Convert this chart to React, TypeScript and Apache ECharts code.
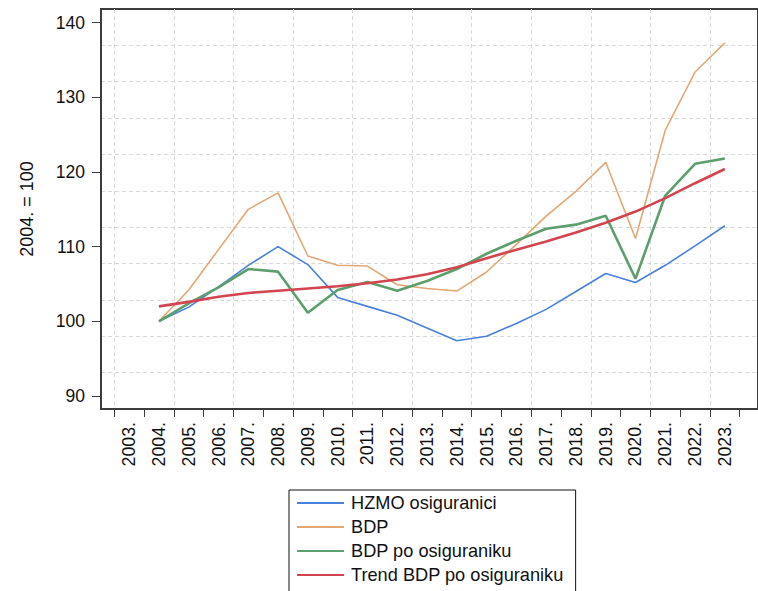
import React, { useEffect, useRef } from "react";
import * as echarts from "echarts";

// Category years (x axis labels, shown as "2003." ... "2023.")
const years = [2003, 2004, 2005, 2006, 2007, 2008, 2009, 2010, 2011, 2012, 2013, 2014, 2015, 2016, 2017, 2018, 2019, 2020, 2021, 2022, 2023];
// Data years (series start in 2004)
const dataYears = [2004, 2005, 2006, 2007, 2008, 2009, 2010, 2011, 2012, 2013, 2014, 2015, 2016, 2017, 2018, 2019, 2020, 2021, 2022, 2023];

const hzmo = [100, 101.9, 104.6, 107.5, 110.0, 107.6, 103.2, 102.0, 100.8, 99.1, 97.4, 98.0, 99.7, 101.6, 104.0, 106.4, 105.2, 107.5, 110.1, 112.8];
const bdp = [100, 104.2, 109.6, 115.0, 117.2, 108.75, 107.5, 107.4, 104.9, 104.4, 104.05, 106.6, 110.3, 114.1, 117.4, 121.3, 111.1, 125.6, 133.4, 137.3];
const bdpPoOsig = [100, 102.4, 104.55, 107.0, 106.65, 101.15, 104.2, 105.25, 104.1, 105.4, 107.0, 109.05, 110.8, 112.4, 112.95, 114.15, 105.7, 116.85, 121.1, 121.8];
const trend = [102.0, 102.6, 103.3, 103.8, 104.1, 104.4, 104.7, 105.1, 105.6, 106.3, 107.25, 108.45, 109.6, 110.7, 111.9, 113.2, 114.7, 116.5, 118.5, 120.4];

const seriesNames = ["HZMO osiguranici", "BDP", "BDP po osiguraniku", "Trend BDP po osiguraniku"];
const seriesColors = ["#4a80dc", "#e3a774", "#5c9f6c", "#d2454f"];
const seriesWidths = [1.6, 1.6, 2.6, 2.6];

const yTicks = [90, 100, 110, 120, 130, 140];

const FONT = "'Liberation Sans', Arial, Helvetica, sans-serif";

export default function App() {
  const ref = useRef<HTMLDivElement>(null);

  useEffect(() => {
    if (!ref.current) return;
    const chart = echarts.init(ref.current, undefined, { renderer: "svg" });

    const tickBounds = years.map((y) => y - 0.5).concat([years[years.length - 1] + 0.5]);
    const gridBounds = tickBounds.filter((_, i) => i % 2 === 0);

    const xMin = 2002.055;
    const xMax = 2024.113;
    const yMin = 88.25;
    const yMax = 141.84;

    const allData = [hzmo, bdp, bdpPoOsig, trend];

    chart.setOption({
      animation: false,
      backgroundColor: "#ffffff",
      textStyle: { fontFamily: FONT },
      color: seriesColors,
      grid: {
        left: 101,
        top: 9,
        width: 669,
        height: 400,
        show: true,
        borderColor: "#3c3c3c",
        borderWidth: 2,
        backgroundColor: "transparent",
      },
      legend: {
        orient: "vertical",
        left: 289,
        top: 490,
        height: 130,
        data: seriesNames,
        icon: "rect",
        itemWidth: 47,
        itemHeight: 2,
        itemGap: 0,
        padding: [1, 12, 8, 8],
        borderColor: "#111",
        borderWidth: 1,
        backgroundColor: "#fff",
        textStyle: { fontSize: 18.2, lineHeight: 24, color: "#111", fontFamily: FONT, padding: [0, 0, 0, 2] },
      },
      xAxis: [
        {
          type: "value",
          min: xMin,
          max: xMax,
          position: "bottom",
          z: 5,
          axisLine: { show: true, onZero: false, lineStyle: { color: "#3c3c3c", width: 2 } },
          axisTick: { show: true, length: 8, customValues: tickBounds, lineStyle: { color: "#3c3c3c", width: 1 } },
          axisLabel: {
            show: true,
            customValues: years,
            rotate: 90,
            margin: 13,
            fontSize: 17.8,
            color: "#111",
            fontFamily: FONT,
            formatter: (v: number) => `${v}.`,
          },
          splitLine: { show: false },
        },
        {
          type: "value",
          min: xMin,
          max: xMax,
          position: "bottom",
          axisLine: { show: false },
          axisTick: { show: false, customValues: gridBounds },
          axisLabel: { show: false },
          splitLine: { show: true, lineStyle: { color: "#d9d9d9", type: [4, 3], width: 1 } },
        },
      ],
      yAxis: [
        {
          type: "value",
          min: yMin,
          max: yMax,
          position: "left",
          z: 5,
          name: "2004. = 100",
          nameLocation: "middle",
          nameGap: 65,
          nameTextStyle: { fontSize: 18, color: "#111", fontFamily: FONT },
          axisLine: { show: true, onZero: false, lineStyle: { color: "#3c3c3c", width: 2 } },
          axisTick: { show: true, length: 9, customValues: yTicks, lineStyle: { color: "#3c3c3c", width: 1 } },
          axisLabel: { show: true, customValues: yTicks, margin: 16, fontSize: 17.5, color: "#111", fontFamily: FONT },
          splitLine: { show: false },
        },
        {
          type: "value",
          min: 0,
          max: 11,
          interval: 1,
          position: "left",
          axisLine: { show: false },
          axisTick: { show: false },
          axisLabel: { show: false },
          splitLine: {
            show: true,
            showMinLine: false,
            showMaxLine: false,
            lineStyle: { color: "#d9d9d9", type: [4, 3], width: 1 },
          },
        },
      ],
      series: seriesNames.map((name, i) => ({
        name,
        type: "line",
        xAxisIndex: 0,
        yAxisIndex: 0,
        symbol: "none",
        showSymbol: false,
        z: 3 + i,
        lineStyle: { color: seriesColors[i], width: seriesWidths[i] },
        itemStyle: { color: seriesColors[i] },
        data: dataYears.map((y, j) => [y, allData[i][j]]),
      })),
    });

    return () => {
      chart.dispose();
    };
  }, []);

  return (
    <div
      ref={ref}
      style={{ position: "fixed", left: 0, top: 0, width: 758, height: 591, background: "#fff" }}
    />
  );
}
